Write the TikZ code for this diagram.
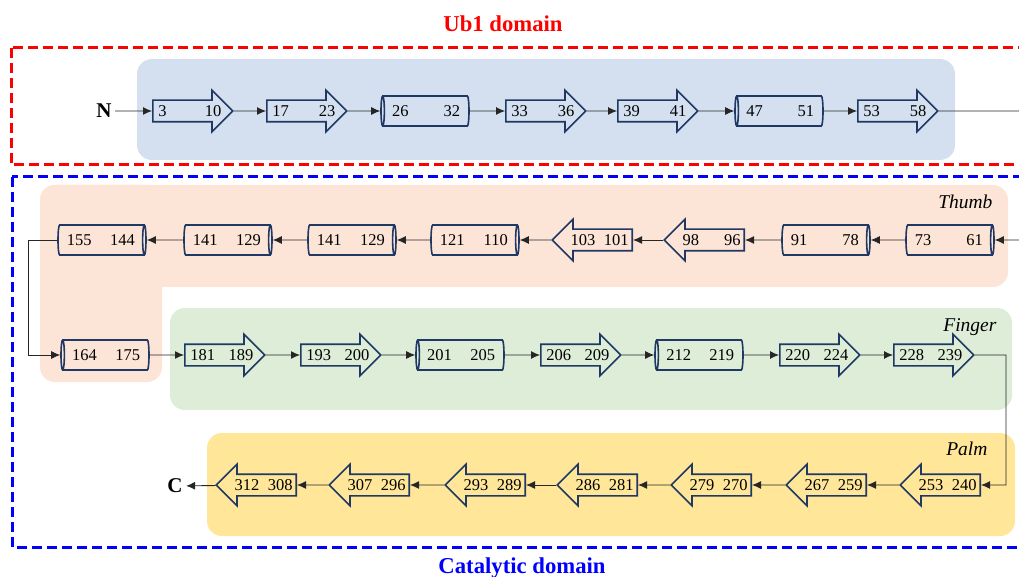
\documentclass[tikz,border=0pt]{standalone}
\usepackage{fontspec}
\setmainfont{Liberation Serif}
\usetikzlibrary{shapes.arrows,shapes.geometric,arrows.meta}

\definecolor{ubbg}{RGB}{212,224,240}
\definecolor{thumbbg}{RGB}{252,228,214}
\definecolor{fingerbg}{RGB}{221,237,215}
\definecolor{palmbg}{RGB}{255,230,153}
\definecolor{outline}{RGB}{31,56,100}

\newcommand\numfont{\fontsize{16.5}{18}\selectfont}
% residue ranges inside strands and helices
\newcommand\rnum[2]{\makebox[54pt]{\hspace{-2pt}#1\hfill#2\hspace{-7pt}}}
\newcommand\lnum[2]{\makebox[54pt]{#1\hfill#2\hspace{-4pt}}}
\newcommand\cnum[2]{\makebox[68pt]{#1\hfill#2}}

\tikzset{
  sse/.style={single arrow, draw=outline, line width=1.6pt, single arrow head extend=10pt,
    single arrow tip angle=90, inner xsep=3pt, inner ysep=4.4pt, text height=11.2pt,
    text depth=0pt, minimum height=80pt, anchor=tail, font=\numfont},
  ssw/.style={sse, shape border rotate=180},
  hlx/.style={cylinder, draw=outline, line width=1.6pt, aspect=0.3, minimum height=88pt,
    minimum width=30pt, inner sep=0pt, text height=11.2pt, text depth=0pt,
    anchor=shape center, shape border rotate=180, font=\numfont},
  hlxw/.style={hlx, shape border rotate=0},
  link/.style={-{Latex[length=9pt,width=8pt]}, line width=0.9pt, black!85},
  domframe/.style={line width=3pt, dash pattern=on 10pt off 5pt},
  domtitle/.style={font=\fontsize{22.7}{26}\selectfont\bfseries, anchor=base},
  sublbl/.style={font=\fontsize{19.5}{22}\selectfont\itshape, anchor=base east},
  termlbl/.style={font=\fontsize{21}{24}\selectfont\bfseries}
}

\begin{document}
\begin{tikzpicture}[x=1pt, y=-1pt]
\useasboundingbox (0,0) rectangle (1019,577);

% subdomain backgrounds
\fill[ubbg, rounded corners=15pt] (137,59) rectangle (955,160);
\fill[thumbbg, rounded corners=15pt] (40,185) rectangle (1008,287);
\fill[thumbbg, rounded corners=15pt] (40,185) rectangle (162,382);
\fill[fingerbg, rounded corners=15pt] (170,308) rectangle (1012,410);
\fill[palmbg, rounded corners=15pt] (207,433) rectangle (1015,536);

% domain frames
\draw[domframe, red] (11,48) rectangle (1040,165);
\draw[domframe, blue] (12,177) rectangle (1040,547);
\node[domtitle, red] (ubl) at (503,32) {Ub1 domain};
\node[domtitle, blue] (catl) at (522,573) {Catalytic domain};
\node[sublbl] (thumbl) at (996,209) {Thumb};
\node[sublbl] (fingerl) at (1000,331) {Finger};
\node[sublbl] (palml) at (991,455) {Palm};

% Ub1 row
\node[termlbl] (nterm) at (104,111) {N};
\node[sse] (u1) at (152,111) {\rnum{3}{10}};
\node[sse] (u2) at (266,111) {\rnum{17}{23}};
\node[hlx] (u3) at (425,111) {\cnum{26}{32}};
\node[sse] (u4) at (505,111) {\rnum{33}{36}};
\node[sse] (u5) at (617,111) {\rnum{39}{41}};
\node[hlx] (u6) at (779,111) {\cnum{47}{51}};
\node[sse] (u7) at (857,111) {\rnum{53}{58}};
\coordinate (ubout) at (1040,111);

% thumb row, running back to the left
\coordinate (thin) at (1040,240);
\node[hlxw] (t1) at (950,240) {\cnum{73}{61}};
\node[hlxw] (t2) at (826,240) {\cnum{91}{78}};
\node[ssw] (t3) at (745,240) {\lnum{98}{96}};
\node[ssw] (t4) at (633,240) {\lnum{103}{101}};
\node[hlxw] (t5) at (475,240) {\cnum{121}{110}};
\node[hlxw] (t6) at (352,240) {\cnum{141}{129}};
\node[hlxw] (t7) at (228,240) {\cnum{141}{129}};
\node[hlxw] (t8) at (102,240) {\cnum{155}{144}};
\coordinate (tbend) at (28,240);
\node[hlx] (t9) at (105,355) {\cnum{164}{175}};

% finger row
\node[sse] (f1) at (184,355) {\rnum{181}{189}};
\node[sse] (f2) at (300,355) {\rnum{193}{200}};
\node[hlx] (f3) at (460,355) {\cnum{201}{205}};
\node[sse] (f4) at (540,355) {\rnum{206}{209}};
\node[hlx] (f5) at (699,355) {\cnum{212}{219}};
\node[sse] (f6) at (779,355) {\rnum{220}{224}};
\node[sse] (f7) at (893,355) {\rnum{228}{239}};
\coordinate (fbend) at (1006,355);

% palm row
\node[ssw] (p1) at (981,485) {\lnum{253}{240}};
\node[ssw] (p2) at (867,485) {\lnum{267}{259}};
\node[ssw] (p3) at (752,485) {\lnum{279}{270}};
\node[ssw] (p4) at (638,485) {\lnum{286}{281}};
\node[ssw] (p5) at (526,485) {\lnum{293}{289}};
\node[ssw] (p6) at (410,485) {\lnum{307}{296}};
\node[ssw] (p7) at (297,485) {\lnum{312}{308}};
\node[termlbl] (cterm) at (175,486) {C};

% chain
\draw[link] (nterm) -- (u1);
\draw[link] (u1) -- (u2);
\draw[link] (u2) -- (u3);
\draw[link] (u3) -- (u4);
\draw[link] (u4) -- (u5);
\draw[link] (u5) -- (u6);
\draw[link] (u6) -- (u7);
\draw[line width=0.9pt, black!85] (u7) -- (ubout);
\draw[link] (thin) -- (t1);
\draw[link] (t1) -- (t2);
\draw[link] (t2) -- (t3);
\draw[link] (t3) -- (t4);
\draw[link] (t4) -- (t5);
\draw[link] (t5) -- (t6);
\draw[link] (t6) -- (t7);
\draw[link] (t7) -- (t8);
\draw[link] (t8) -- (tbend) |- (t9);
\draw[link] (t9) -- (f1);
\draw[link] (f1) -- (f2);
\draw[link] (f2) -- (f3);
\draw[link] (f3) -- (f4);
\draw[link] (f4) -- (f5);
\draw[link] (f5) -- (f6);
\draw[link] (f6) -- (f7);
\draw[link] (f7) -- (fbend) |- (p1);
\draw[link] (p1) -- (p2);
\draw[link] (p2) -- (p3);
\draw[link] (p3) -- (p4);
\draw[link] (p4) -- (p5);
\draw[link] (p5) -- (p6);
\draw[link] (p6) -- (p7);
\draw[link] (p7) -- (cterm);
\end{tikzpicture}
\end{document}
